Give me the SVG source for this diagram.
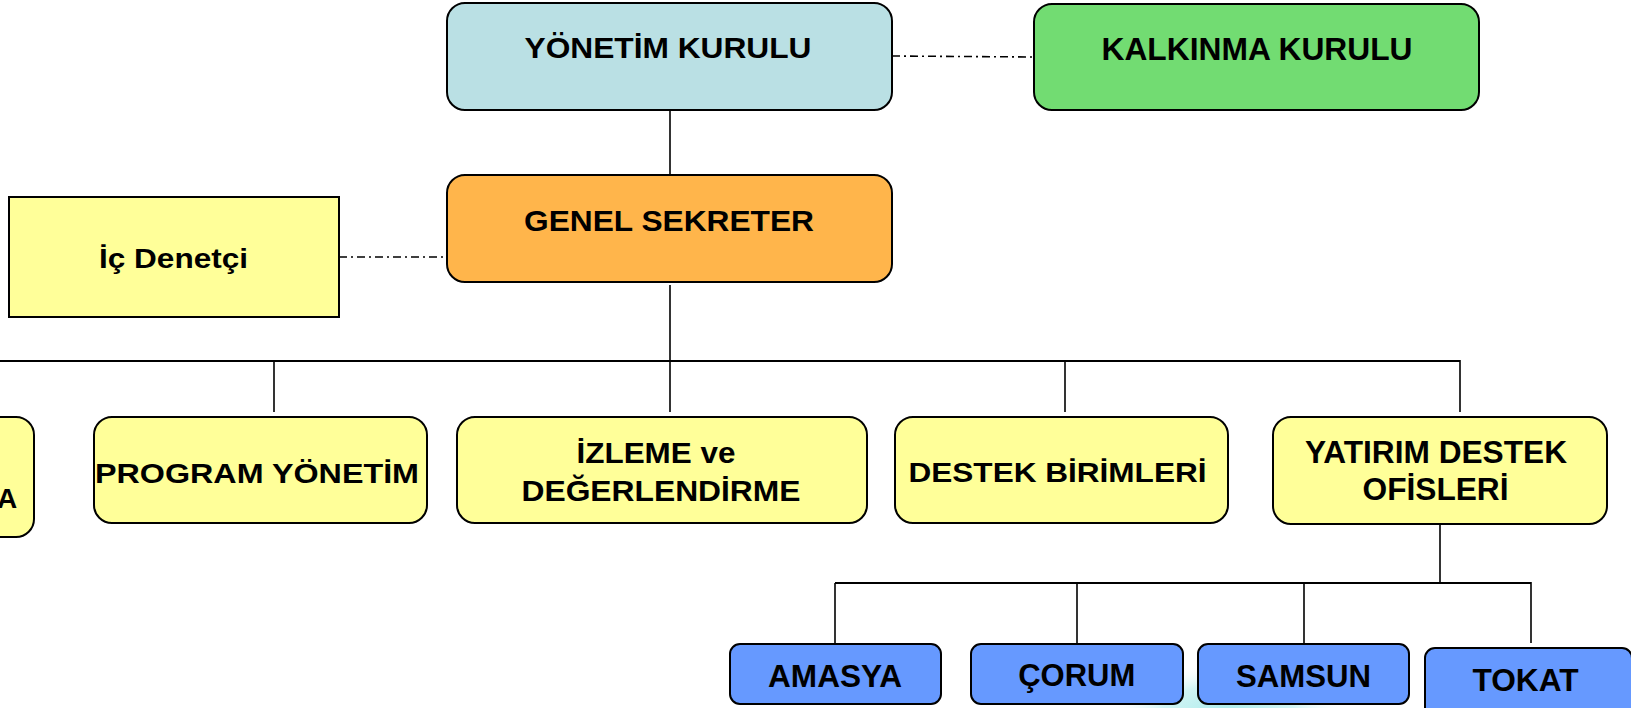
<svg xmlns="http://www.w3.org/2000/svg" width="1631" height="708" viewBox="0 0 1631 708">
<style>
.box{stroke:#000;stroke-width:2}
.lbl{font-family:"Liberation Sans",Arial,Helvetica,sans-serif;font-weight:bold;fill:#000;text-anchor:middle}
.ln{stroke:#000;stroke-width:1.6;fill:none}
.bar{stroke:#000;stroke-width:2;fill:none}
.dd{stroke:#000;stroke-width:1.6;fill:none;stroke-dasharray:8 4 2 4}
</style>
<defs>
<radialGradient id="glow" cx="0.5" cy="0.5" r="0.5">
<stop offset="0" stop-color="#a8eaea" stop-opacity="1"/>
<stop offset="0.55" stop-color="#c2f1f1" stop-opacity="0.75"/>
<stop offset="1" stop-color="#ffffff" stop-opacity="0"/>
</radialGradient>
</defs>
<rect width="1631" height="708" fill="#fff"/>
<ellipse cx="1228" cy="712" rx="120" ry="50" fill="url(#glow)"/>
<g id="connectors">
<line class="ln" x1="670" y1="110" x2="670" y2="175"/>
<line class="ln" x1="670" y1="285" x2="670" y2="412"/>
<line class="bar" x1="0" y1="361" x2="1460" y2="361"/>
<line class="ln" x1="274" y1="361" x2="274" y2="412"/>
<line class="ln" x1="1065" y1="361" x2="1065" y2="412"/>
<line class="ln" x1="1460" y1="360" x2="1460" y2="412"/>
<line class="dd" x1="339" y1="257" x2="446" y2="257"/>
<line class="dd" x1="892" y1="56" x2="1034" y2="57"/>
<line class="ln" x1="1440" y1="524" x2="1440" y2="583"/>
<line class="bar" x1="835" y1="583" x2="1531" y2="583"/>
<line class="ln" x1="835" y1="583" x2="835" y2="644"/>
<line class="ln" x1="1077" y1="583" x2="1077" y2="644"/>
<line class="ln" x1="1304" y1="583" x2="1304" y2="644"/>
<line class="ln" x1="1531" y1="582" x2="1531" y2="643"/>
</g>
<g id="yonetim-kurulu">
<rect class="box" x="447" y="3" width="445" height="107" rx="18" fill="#bae0e4"/>
<text class="lbl" x="668" y="58" font-size="30" textLength="287" lengthAdjust="spacingAndGlyphs">YÖNETİM KURULU</text>
</g>
<g id="kalkinma-kurulu">
<rect class="box" x="1034" y="4" width="445" height="106" rx="18" fill="#72dc72"/>
<text class="lbl" x="1257" y="60" font-size="31" textLength="311" lengthAdjust="spacingAndGlyphs">KALKINMA KURULU</text>
</g>
<g id="genel-sekreter">
<rect class="box" x="447" y="175" width="445" height="107" rx="18" fill="#ffb54b"/>
<text class="lbl" x="669" y="231" font-size="30" textLength="290" lengthAdjust="spacingAndGlyphs">GENEL SEKRETER</text>
</g>
<g id="ic-denetci">
<rect class="box" x="9" y="197" width="330" height="120" fill="#ffff99"/>
<text class="lbl" x="173.5" y="268" font-size="28" textLength="149" lengthAdjust="spacingAndGlyphs">İç Denetçi</text>
</g>
<g id="partial-left">
<rect class="box" x="-200" y="417" width="234" height="120" rx="18" fill="#ffff99"/>
<text class="lbl" x="7" y="508" font-size="28">A</text>
</g>
<g id="program-yonetim">
<rect class="box" x="94" y="417" width="333" height="106" rx="18" fill="#ffff99"/>
<text class="lbl" x="257" y="483" font-size="28" textLength="324" lengthAdjust="spacingAndGlyphs">PROGRAM YÖNETİM</text>
</g>
<g id="izleme">
<rect class="box" x="457" y="417" width="410" height="106" rx="18" fill="#ffff99"/>
<text class="lbl" x="656" y="463" font-size="30" textLength="159" lengthAdjust="spacingAndGlyphs">İZLEME ve</text>
<text class="lbl" x="661" y="500.5" font-size="30" textLength="279" lengthAdjust="spacingAndGlyphs">DEĞERLENDİRME</text>
</g>
<g id="destek-birimleri">
<rect class="box" x="895" y="417" width="333" height="106" rx="18" fill="#ffff99"/>
<text class="lbl" x="1057.5" y="482" font-size="28" textLength="298" lengthAdjust="spacingAndGlyphs">DESTEK BİRİMLERİ</text>
</g>
<g id="yatirim-destek">
<rect class="box" x="1273" y="417" width="334" height="107" rx="18" fill="#ffff99"/>
<text class="lbl" x="1436" y="463" font-size="31" textLength="262" lengthAdjust="spacingAndGlyphs">YATIRIM DESTEK</text>
<text class="lbl" x="1435.5" y="500" font-size="31" textLength="146" lengthAdjust="spacingAndGlyphs">OFİSLERİ</text>
</g>
<g id="amasya">
<rect class="box" x="730" y="644" width="211" height="60" rx="10" fill="#6699ff"/>
<text class="lbl" x="835" y="686.5" font-size="31" textLength="134" lengthAdjust="spacingAndGlyphs">AMASYA</text>
</g>
<g id="corum">
<rect class="box" x="971" y="644" width="212" height="60" rx="10" fill="#6699ff"/>
<text class="lbl" x="1076.7" y="686" font-size="31" textLength="117" lengthAdjust="spacingAndGlyphs">ÇORUM</text>
</g>
<g id="samsun">
<rect class="box" x="1198" y="644" width="211" height="60" rx="10" fill="#6699ff"/>
<text class="lbl" x="1303.5" y="686.5" font-size="31" textLength="135" lengthAdjust="spacingAndGlyphs">SAMSUN</text>
</g>
<g id="tokat">
<rect class="box" x="1425" y="648" width="207" height="70" rx="10" fill="#6699ff"/>
<text class="lbl" x="1525.5" y="691" font-size="31" textLength="106" lengthAdjust="spacingAndGlyphs">TOKAT</text>
</g>
</svg>
